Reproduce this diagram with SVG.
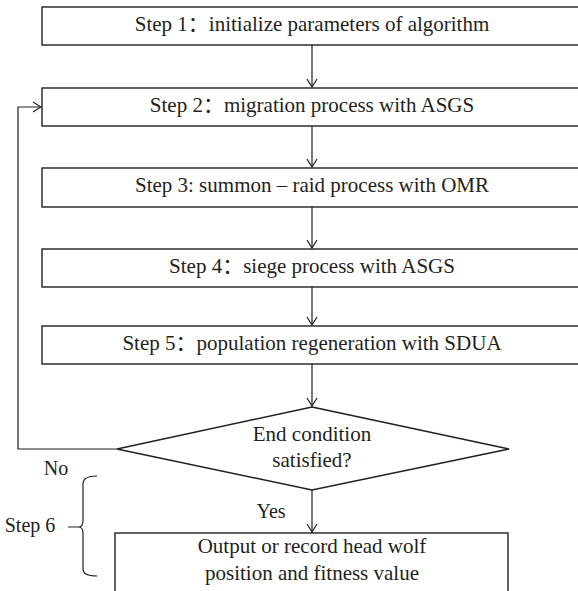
<svg xmlns="http://www.w3.org/2000/svg" width="578" height="591" viewBox="0 0 578 591">
<style>
.box{fill:#fff;stroke:#231f20;stroke-width:1.4}
.ln{fill:none;stroke:#231f20;stroke-width:1.2}
text{font-family:"Liberation Serif","Noto Sans CJK SC",serif;font-size:21px;fill:#231f20;text-anchor:middle}
.lb{font-size:20px}
</style>
<defs>
<marker id="ah" viewBox="0 0 10 12" refX="9" refY="6" markerWidth="10" markerHeight="12" markerUnits="userSpaceOnUse" orient="auto">
<path d="M1,1 L9,6 L1,11" fill="none" stroke="#231f20" stroke-width="1.2"/>
</marker>
</defs>
<rect width="578" height="591" fill="#fff"/>
<g id="connectors">
<line class="ln" x1="312" y1="45" x2="312" y2="87" marker-end="url(#ah)"/>
<line class="ln" x1="312" y1="126" x2="312" y2="167" marker-end="url(#ah)"/>
<line class="ln" x1="312" y1="207" x2="312" y2="248" marker-end="url(#ah)"/>
<line class="ln" x1="312" y1="287" x2="312" y2="325" marker-end="url(#ah)"/>
<line class="ln" x1="312" y1="364" x2="312" y2="406" marker-end="url(#ah)"/>
<line class="ln" x1="312" y1="490" x2="312" y2="532" marker-end="url(#ah)"/>
<polyline class="ln" points="117,449 18,449 18,107 41,107" marker-end="url(#ah)"/>
</g>
<g id="step1"><rect class="box" x="42" y="7" width="540" height="38"/><text x="312" y="31">Step 1：initialize parameters of algorithm</text></g>
<g id="step2"><rect class="box" x="42" y="88" width="540" height="38"/><text x="312" y="112">Step 2：migration process with ASGS</text></g>
<g id="step3"><rect class="box" x="42" y="168" width="540" height="39"/><text x="312" y="192">Step 3: summon – raid process with OMR</text></g>
<g id="step4"><rect class="box" x="42" y="249" width="540" height="38"/><text x="312" y="273">Step 4：siege process with ASGS</text></g>
<g id="step5"><rect class="box" x="42" y="326" width="540" height="38"/><text x="312" y="350">Step 5：population regeneration with SDUA</text></g>
<g id="decision"><polygon class="box" points="312,407 509,449 312,490 117,449"/><text x="312" y="441">End condition</text><text x="312" y="467">satisfied?</text></g>
<g id="output"><rect class="box" x="115" y="533" width="393" height="62"/><text x="312" y="553">Output or record head wolf</text><text x="312" y="580">position and fitness value</text></g>
<g id="labels">
<text class="lb" x="56" y="475">No</text>
<text class="lb" x="271" y="518">Yes</text>
<text class="lb" x="30" y="532">Step 6</text>
<path class="ln" d="M97,476 Q83,476 83,484 L83,520 Q83,527 79,527 L68,527 M79,527 Q83,527 83,534 L83,569 Q83,576 97,576"/>
</g>
</svg>
